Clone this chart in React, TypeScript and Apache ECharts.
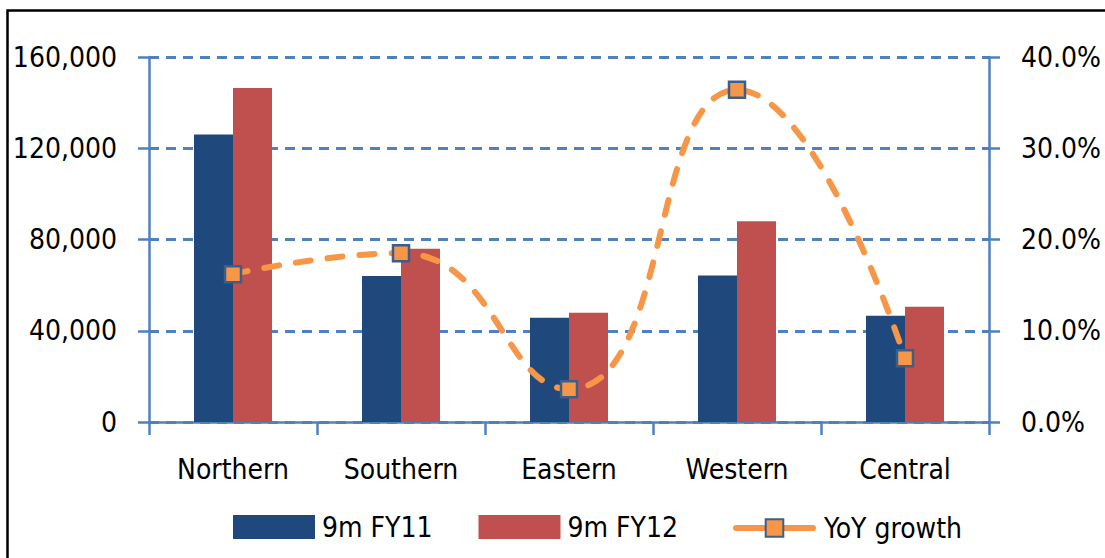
import React, { useEffect, useRef } from "react";
import * as echarts from "echarts";

const regions = ["Northern", "Southern", "Eastern", "Western", "Central"];
const fy11 = [126000, 64000, 45700, 64200, 46600];
const fy12 = [146400, 76000, 47900, 88000, 50500];
const yoyGrowth = [16.2, 18.5, 3.6, 36.4, 7.0];

const leftTicks = { min: 0, max: 160000, interval: 40000 };
const rightTicks = { min: 0, max: 40, interval: 10 };

const FONT = "'DejaVu Sans Condensed', 'DejaVu Sans', sans-serif";
const AXIS_BLUE = "#4F81BD";

export default function App() {
  const ref = useRef<HTMLDivElement>(null);

  useEffect(() => {
    if (!ref.current) return;
    const chart = echarts.init(ref.current, null, { renderer: "svg" });

    const textStyle = { fontFamily: FONT, fontSize: 28, color: "#000" };

    chart.setOption({
      animation: false,
      backgroundColor: "#fff",
      grid: {
        left: 149,
        right: 116,
        top: 57,
        bottom: 136,
        containLabel: false,
        outerBoundsMode: "none",
      },
      graphic: [
        {
          type: "rect",
          shape: { x: 7.5, y: 10.5, width: 1200, height: 600 },
          style: { fill: "none", stroke: "#000", lineWidth: 2.5 },
          z: 100,
        },
      ],
      legend: [
        {
          data: ["9m FY11", "9m FY12"],
          icon: "rect",
          left: 228,
          top: 508,
          itemWidth: 82,
          itemHeight: 24,
          itemGap: 46,
          textStyle: { ...textStyle, padding: [0, 0, 0, 2] },
        },
        {
          data: ["YoY growth"],
          left: 728,
          top: 509,
          itemWidth: 77,
          itemHeight: 22,
          lineStyle: { type: "solid", width: 6, cap: "round" },
          textStyle: { ...textStyle, padding: [0, 0, 0, 6] },
        },
      ],
      xAxis: {
        type: "category",
        data: regions,
        axisLine: { lineStyle: { color: AXIS_BLUE, width: 2.5 } },
        axisTick: { show: true, length: 13, lineStyle: { color: AXIS_BLUE, width: 2.5 } },
        axisLabel: { ...textStyle, margin: 33, interval: 0 },
        splitLine: { show: false },
      },
      yAxis: [
        {
          type: "value",
          position: "left",
          ...leftTicks,
          axisLine: { show: true, lineStyle: { color: AXIS_BLUE, width: 2.5 } },
          axisTick: { show: true, length: 11, lineStyle: { color: AXIS_BLUE, width: 2.5 } },
          axisLabel: {
            ...textStyle,
            margin: 32,
            formatter: (v: number) => v.toLocaleString("en-US"),
          },
          splitLine: {
            show: true,
            lineStyle: { color: AXIS_BLUE, width: 3, type: [10, 7] },
          },
        },
        {
          type: "value",
          position: "right",
          ...rightTicks,
          axisLine: { show: true, lineStyle: { color: AXIS_BLUE, width: 2.5 } },
          axisTick: { show: true, length: 11, lineStyle: { color: AXIS_BLUE, width: 2.5 } },
          axisLabel: {
            ...textStyle,
            margin: 32,
            formatter: (v: number) => v.toFixed(1) + "%",
          },
          splitLine: { show: false },
        },
        {
          // inner halves of the crossing ticks on the left axis
          type: "value",
          position: "left",
          ...leftTicks,
          axisLine: { show: false },
          axisTick: { show: true, inside: true, length: 8, lineStyle: { color: AXIS_BLUE, width: 2.5 } },
          axisLabel: { show: false },
          splitLine: { show: false },
        },
        {
          // inner halves of the crossing ticks on the right axis
          type: "value",
          position: "right",
          ...rightTicks,
          axisLine: { show: false },
          axisTick: { show: true, inside: true, length: 6, lineStyle: { color: AXIS_BLUE, width: 2.5 } },
          axisLabel: { show: false },
          splitLine: { show: false },
        },
      ],
      series: [
        {
          name: "9m FY11",
          type: "bar",
          data: fy11,
          barWidth: 39,
          barGap: "0%",
          itemStyle: { color: "#1F497D" },
          z: 2,
        },
        {
          name: "9m FY12",
          type: "bar",
          data: fy12,
          barWidth: 39,
          barGap: "0%",
          itemStyle: { color: "#C0504D" },
          z: 2,
        },
        {
          name: "YoY growth",
          type: "line",
          yAxisIndex: 1,
          data: yoyGrowth,
          smooth: 0.5,
          symbol: "rect",
          symbolSize: 16,
          lineStyle: { color: "#F79646", width: 6, type: [15, 17], cap: "round" },
          itemStyle: { color: "#F79646", borderColor: "#3A5F8D", borderWidth: 2.5 },
          z: 5,
        },
      ],
    });

    return () => chart.dispose();
  }, []);

  return (
    <div
      ref={ref}
      style={{ position: "fixed", left: 0, top: 0, width: 1105, height: 558 }}
    />
  );
}
